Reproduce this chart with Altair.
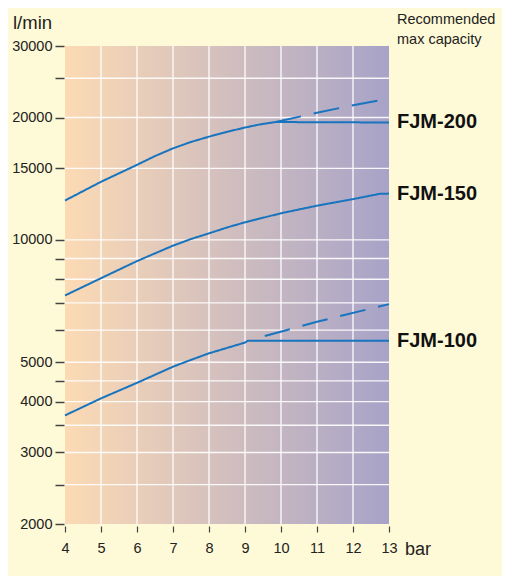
import altair as alt
import pandas as pd

# ---- data ----
X_TICKS = [4, 5, 6, 7, 8, 9, 10, 11, 12, 13]
X_GRID = [5, 6, 7, 8, 9, 10, 11, 12]
Y_TICKS = [2000, 2500, 3000, 3500, 4000, 4500, 5000, 6000, 7000, 8000, 9000,
           10000, 15000, 20000, 25000, 30000]
Y_LABELED = [2000, 3000, 4000, 5000, 10000, 15000, 20000, 30000]
Y_GRID = [2500, 3000, 3500, 4000, 4500, 5000, 6000, 7000, 8000, 9000,
          10000, 15000, 20000, 25000]

fjm200_x = [4, 5, 6, 6.5, 7, 7.5, 8, 8.5, 9, 9.4, 9.85, 13]
fjm200_y = [12500, 13900, 15300, 16080, 16800, 17420, 17950, 18450, 18900, 19230, 19500, 19450]
fjm200_dash_x = [9.85, 11, 12, 13]
fjm200_dash_y = [19500, 20550, 21450, 22250]

fjm150_x = [4, 5, 6, 7, 7.5, 8, 8.5, 9, 10, 11, 12, 12.75, 13]
fjm150_y = [7300, 8050, 8870, 9680, 10050, 10380, 10730, 11050, 11630, 12140, 12600, 12990, 13000]

fjm100_x = [4, 5, 6, 7, 7.4, 8, 9, 9.08, 13]
fjm100_y = [3700, 4075, 4450, 4876, 5030, 5260, 5590, 5650, 5650]
fjm100_dash_x = [9.55, 11, 13]
fjm100_dash_y = [5800, 6290, 6950]

MODELS = ["FJM-200", "FJM-150", "FJM-100"]
END_Y = [19450, 13000, 5650]

Y_UNIT = "l/min"
X_UNIT = "bar"
NOTE = ["Recommended", "max capacity"]

# ---- styling ----
BG = "#fef9d6"
BLUE = "#1874be"
FONT = "Liberation Sans, Arial, sans-serif"
W, H = 324, 478

rows = []
def add(model, seg, xs, ys):
    for a, b in zip(xs, ys):
        rows.append({"model": model, "seg": seg, "key": model + seg, "x": a, "y": b})

add("FJM-200", "solid", fjm200_x, fjm200_y)
add("FJM-200", "dashed", fjm200_dash_x, fjm200_dash_y)
add("FJM-150", "solid", fjm150_x, fjm150_y)
add("FJM-100", "solid", fjm100_x, fjm100_y)
add("FJM-100", "dashed", fjm100_dash_x, fjm100_dash_y)
df = pd.DataFrame(rows)

xs = alt.Scale(domain=[4, 13], nice=False, zero=False)
ys = alt.Scale(type="log", domain=[2000, 30000], nice=False)

label_test = "indexof([" + ",".join(str(v) for v in Y_LABELED) + "], datum.value) >= 0 ? datum.label : ''"

x_axis = alt.Axis(values=X_TICKS, title=None, grid=False, domain=False,
                  offset=2, tickSize=6, tickColor="#444", tickWidth=1.2,
                  ticks=True, labelFont=FONT, labelFontSize=14.5, labelColor="#222",
                  labelPadding=9, format="d", labelOverlap=False,
                  labelFlush=False, labelBound=False)
y_axis = alt.Axis(values=Y_TICKS, title=None, grid=False, domain=False,
                  offset=1, tickSize=9, tickColor="#444", tickWidth=1.5,
                  ticks=True, labelFont=FONT, labelFontSize=14.5, labelColor="#222",
                  labelPadding=3, format="d", labelExpr=label_test,
                  labelOverlap=False, labelFlush=False, labelBound=False)

X = lambda f: alt.X(f, scale=xs, axis=x_axis)
Y = lambda f: alt.Y(f, scale=ys, axis=y_axis)

bg = alt.Chart(pd.DataFrame({"x0": [4], "x1": [13], "y0": [2000], "y1": [30000]})).mark_rect(
    fill=alt.Gradient(gradient="linear",
                      stops=[alt.GradientStop(color="#fcdab4", offset=0),
                             alt.GradientStop(color="#a7a3c8", offset=1)],
                      x1=0, x2=1, y1=0, y2=0)
).encode(x=X("x0:Q"), x2="x1:Q", y=Y("y0:Q"), y2="y1:Q")

vgrid = alt.Chart(pd.DataFrame({"x": X_GRID})).mark_rule(
    color="white", strokeWidth=1.4, opacity=0.9
).encode(x=X("x:Q"))

hgrid = alt.Chart(pd.DataFrame({"y": Y_GRID})).mark_rule(
    color="white", strokeWidth=1.4, opacity=0.9
).encode(y=Y("y:Q"))

lines = alt.Chart(df).mark_line(color=BLUE, strokeWidth=2).encode(
    x=X("x:Q"),
    y=Y("y:Q"),
    detail="key:N",
    strokeDash=alt.StrokeDash("seg:N",
                              scale=alt.Scale(domain=["solid", "dashed"],
                                              range=[[1, 0], [26, 13]]),
                              legend=None),
)

labels = alt.Chart(pd.DataFrame({"model": MODELS, "x": [13] * 3, "y": END_Y})).mark_text(
    align="left", baseline="middle", dx=8, font="Liberation Sans",
    fontWeight="bold", fontSize=20, color="#111"
).encode(x=X("x:Q"), y=Y("y:Q"), text="model:N")

one = pd.DataFrame({"a": [0]})
note = alt.Chart(one).mark_text(
    text=NOTE, align="left", baseline="alphabetic", font=FONT,
    fontSize=14.5, lineHeight=20, color="#222"
).encode(x=alt.value(332), y=alt.value(-22))

yunit = alt.Chart(one).mark_text(
    text=Y_UNIT, align="left", baseline="alphabetic", font=FONT,
    fontSize=18.5, color="#222"
).encode(x=alt.value(-52), y=alt.value(-17))

xunit = alt.Chart(one).mark_text(
    text=X_UNIT, align="left", baseline="alphabetic", font=FONT,
    fontSize=18, color="#222"
).encode(x=alt.value(340), y=alt.value(509))

chart = alt.layer(bg, vgrid, hgrid, lines, labels, note, yunit, xunit).properties(
    width=W, height=H, background=BG,
    padding={"left": 57, "top": 38, "right": 113, "bottom": 52},
    autosize=alt.AutoSizeParams(type="none"),
).configure_view(stroke=None)

chart.save("out.html", embed_options={"renderer": "svg", "actions": False})
